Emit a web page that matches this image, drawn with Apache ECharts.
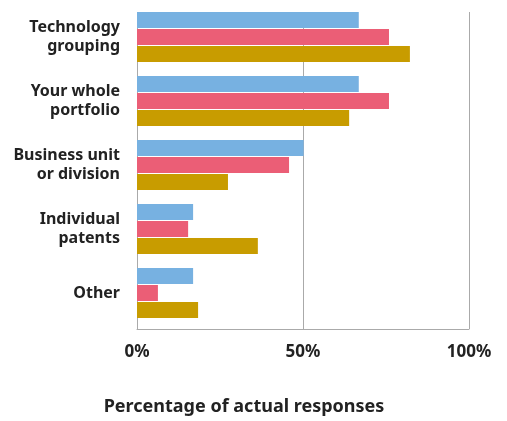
<!DOCTYPE html>
<html><head><meta charset="utf-8">
<script src="https://cdn.jsdelivr.net/npm/echarts@6/dist/echarts.min.js"></script>
<style>html,body{margin:0;padding:0;background:#fff}#c{width:507px;height:421px}</style>
</head><body><div id="c"></div>
<script>
const categories = ['Technology\ngrouping', 'Your whole\nportfolio', 'Business unit\nor division', 'Individual\npatents', 'Other'];
const seriesA = [66.8, 66.8, 50.2, 16.9, 16.9];
const seriesB = [75.9, 75.9, 45.8, 15.4, 6.3];
const seriesC = [82.2, 63.9, 27.4, 36.4, 18.4];
const xTicks = [0, 50, 100];
const axisTitle = 'Percentage of actual responses';

const font = '"Noto Sans", sans-serif';
const chart = echarts.init(document.getElementById('c'));
const mk = (name, data, color) => ({
  type: 'bar', name, data, xAxisIndex: 0, yAxisIndex: 0,
  barWidth: 16, barGap: '6.25%', itemStyle: { color }, silent: true
});
chart.setOption({
  animation: false,
  grid: [
    { left: 137, width: 332, top: 5, height: 320 },
    { left: 137, width: 332, top: 12, height: 324 }
  ],
  xAxis: [
    { gridIndex: 0, type: 'value', min: 0, max: 100, show: false },
    { gridIndex: 1, type: 'value', min: xTicks[0], max: xTicks[xTicks.length - 1], interval: 50,
      axisLine: { show: true, lineStyle: { color: '#aaa', width: 1 } },
      axisTick: { show: false },
      splitLine: { show: true, lineStyle: { color: '#aaa', width: 1 } },
      axisLabel: { formatter: '{value}%', margin: 15, color: '#222', fontSize: 17, fontWeight: 'bold', fontFamily: font },
      name: axisTitle, nameLocation: 'middle', nameGap: 69,
      nameTextStyle: { color: '#222', fontSize: 18, fontWeight: 'bold', fontFamily: font, padding: [0, 118, 0, 0] }
    }
  ],
  yAxis: [
    { gridIndex: 0, type: 'category', data: categories, inverse: true,
      axisLine: { show: false }, axisTick: { show: false }, splitLine: { show: false },
      axisLabel: { margin: 17, color: '#222', fontSize: 16, fontWeight: 'bold', fontFamily: font, lineHeight: 19, align: 'right' }
    },
    { gridIndex: 1, type: 'value', show: false }
  ],
  series: [
    mk('A', seriesA, '#77b1e1'),
    mk('B', seriesB, '#eb5e76'),
    mk('C', seriesC, '#c89c00')
  ]
});
</script></body></html>
